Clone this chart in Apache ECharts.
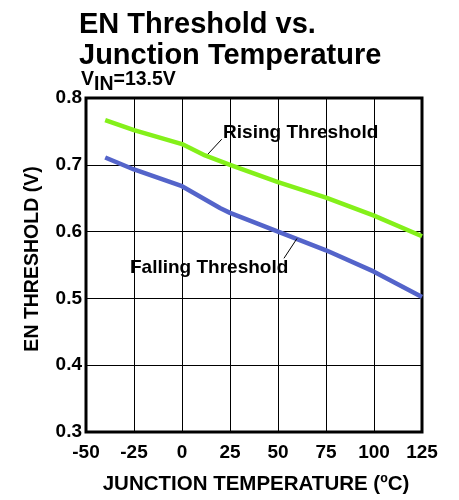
<!DOCTYPE html>
<html>
<head>
<meta charset="utf-8">
<script src="https://cdn.jsdelivr.net/npm/echarts@6/dist/echarts.min.js"></script>
<style>html,body{margin:0;padding:0;background:#fff}#c{width:459px;height:500px}</style>
</head>
<body>
<div id="c"></div>
<script>
// ---- data ----
var titleLines = ['EN Threshold vs.', 'Junction Temperature'];
var xTitle = 'JUNCTION TEMPERATURE (\u00BAC)';
var yTitle = 'EN THRESHOLD (V)';
var risingTemps = [-40, -25, 0, 12, 25, 50, 75, 100, 125];
var risingValues = [0.767, 0.752, 0.731, 0.714, 0.700, 0.674, 0.651, 0.624, 0.593];
var fallingTemps = [-40, -25, 0, 20, 25, 50, 75, 100, 125];
var fallingValues = [0.711, 0.693, 0.668, 0.635, 0.628, 0.600, 0.572, 0.540, 0.502];
var seriesNames = ['Rising Threshold', 'Falling Threshold'];
// annotation anchors in data space: text anchor [T,V], leader start, leader end
var risingNote = {text: [21.4, 0.7487], from: [20.7, 0.7383], to: [13.5, 0.716]};
var fallingNote = {text: [-27.1, 0.5452], from: [53.1, 0.560], to: [59.9, 0.5897]};

var FONT = '"Liberation Sans", Arial, sans-serif';
function pairs(xs, ys) { return xs.map(function (x, i) { return [x, ys[i]]; }); }

var chart = echarts.init(document.getElementById('c'), null, {renderer: 'canvas'});
var option = {
  animation: false,
  backgroundColor: '#fff',
  title: [
    {text: titleLines.join('\n'), left: 79, top: 9, padding: 0,
     textStyle: {fontFamily: FONT, fontSize: 29, fontWeight: 'bold', lineHeight: 31, color: '#000'}},
    {text: '{v|V}{s|IN}{v|=13.5V}', left: 81, top: 70, padding: 0,
     textStyle: {fontFamily: FONT, color: '#000',
       rich: {
         v: {fontFamily: FONT, fontSize: 19.5, fontWeight: 'bold', color: '#000', lineHeight: 20, verticalAlign: 'top'},
         s: {fontFamily: FONT, fontSize: 19.5, fontWeight: 'bold', color: '#000', lineHeight: 30, verticalAlign: 'middle'}
       }}}
  ],
  grid: {left: 86, right: 37, top: 98, bottom: 65, show: true, borderColor: '#000', borderWidth: 3, backgroundColor: 'transparent'},
  xAxis: {
    type: 'value', min: -50, max: 125, interval: 25,
    name: xTitle, nameLocation: 'middle', nameGap: 42,
    nameTextStyle: {fontFamily: FONT, fontSize: 20.5, fontWeight: 'bold', color: '#000', padding: [0, 0, 0, 4]},
    axisLine: {show: false}, axisTick: {show: false},
    axisLabel: {margin: 11, fontFamily: FONT, fontSize: 19, fontWeight: 'bold', color: '#000'},
    splitLine: {show: true, lineStyle: {color: '#000', width: 1}}
  },
  yAxis: {
    type: 'value', min: 0.3, max: 0.8, interval: 0.1,
    name: yTitle, nameLocation: 'middle', nameGap: 43, nameRotate: 90,
    nameTextStyle: {fontFamily: FONT, fontSize: 19.5, fontWeight: 'bold', color: '#000', padding: [0, 0, 0, 12]},
    axisLine: {show: false}, axisTick: {show: false},
    axisLabel: {margin: 4, fontFamily: FONT, fontSize: 19, fontWeight: 'bold', color: '#000',
      formatter: function (v) { return v.toFixed(1); }},
    splitLine: {show: true, lineStyle: {color: '#000', width: 1}}
  },
  series: [
    {name: seriesNames[0], type: 'line', data: pairs(risingTemps, risingValues), showSymbol: false, symbol: 'none',
     lineStyle: {color: '#84F01A', width: 4.5}, z: 3},
    {name: seriesNames[1], type: 'line', data: pairs(fallingTemps, fallingValues), showSymbol: false, symbol: 'none',
     lineStyle: {color: '#5464CA', width: 4.5}, z: 3}
  ]
};
chart.setOption(option);

function px(p) { return chart.convertToPixel({gridIndex: 0}, p); }
function note(n, label) {
  var t = px(n.text), a = px(n.from), b = px(n.to);
  return [
    {type: 'line', z: 10, shape: {x1: a[0], y1: a[1], x2: b[0], y2: b[1]}, style: {stroke: '#000', lineWidth: 1}},
    {type: 'text', z: 10, x: t[0], y: t[1], style: {text: label, font: 'bold 19px ' + FONT, fill: '#000', align: 'left', verticalAlign: 'middle'}}
  ];
}
chart.setOption({graphic: note(risingNote, seriesNames[0]).concat(note(fallingNote, seriesNames[1]))});
</script>
</body>
</html>
